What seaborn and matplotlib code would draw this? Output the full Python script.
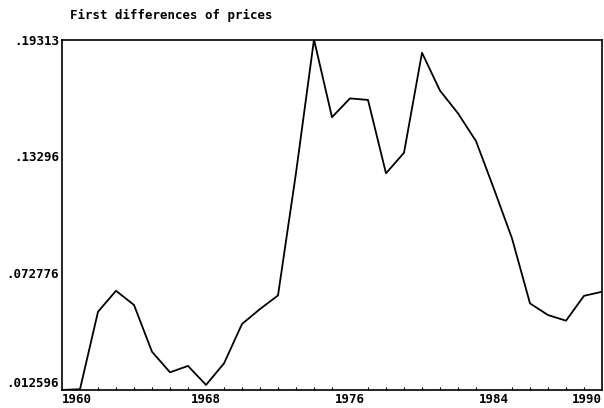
import pandas as pd
import matplotlib.pyplot as plt
import seaborn as sns

# first differences of prices
years = list(range(1960, 1991))
diffs = [0.0126, 0.0130, 0.0529, 0.0637, 0.0564, 0.0323, 0.0217, 0.0250,
         0.0152, 0.0263, 0.0466, 0.0543, 0.0613, 0.1244, 0.19313, 0.1531,
         0.1628, 0.1620, 0.1242, 0.1348, 0.1863, 0.1668, 0.1551, 0.1408,
         0.1161, 0.0907, 0.0572, 0.0512, 0.0483, 0.0611, 0.0632]
y_ticks = [0.012596, 0.072776, 0.13296, 0.19313]
y_labels = ['.012596', '.072776', '.13296', '.19313']
x_ticks = [1960, 1968, 1976, 1984, 1990]

data = pd.DataFrame({'year': years, 'diff': diffs})

sns.set_style('white')
plt.rcParams['font.family'] = ['DejaVu Sans Mono', 'DejaVu Sans']
plt.rcParams['text.color'] = 'black'
plt.rcParams['xtick.color'] = 'black'
plt.rcParams['ytick.color'] = 'black'

fig = plt.figure(figsize=(6.04, 4.08), dpi=100)
ax = fig.add_axes([62 / 604, 18 / 408, 540 / 604, 350.5 / 408])
sns.lineplot(data=data, x='year', y='diff', color='black', linewidth=1.3, ax=ax)

ax.set_xlim(1960, 1990)
ax.set_ylim(0.012596, 0.19313)
ax.set_xticks(x_ticks)
ax.set_xticklabels([str(x) for x in x_ticks], fontweight='bold', fontsize=9)
ax.set_xticks(years, minor=True)
ax.set_yticks(y_ticks)
ax.set_yticklabels(y_labels, fontweight='bold', fontsize=9)
ax.tick_params(axis='x', which='major', direction='in', length=4, width=1, pad=2,
               labelcolor='black')
ax.tick_params(axis='x', which='minor', direction='in', length=2, width=0.8, bottom=True)
ax.tick_params(axis='y', which='major', direction='in', length=3, width=1, pad=2,
               labelcolor='black')
xl = ax.get_xticklabels()
xl[0].set_ha('left')
xl[-1].set_ha('right')
yl = ax.get_yticklabels()
yl[0].set_va('bottom')
ax.set_xlabel('')
ax.set_ylabel('')
for s in ax.spines.values():
    s.set_color('black')
    s.set_linewidth(1.2)

fig.text(70 / 604, 1 - 15 / 408, 'First differences of prices', fontweight='bold',
         fontsize=9, ha='left', va='center', color='black')

fig.savefig('out.png', dpi=100)
